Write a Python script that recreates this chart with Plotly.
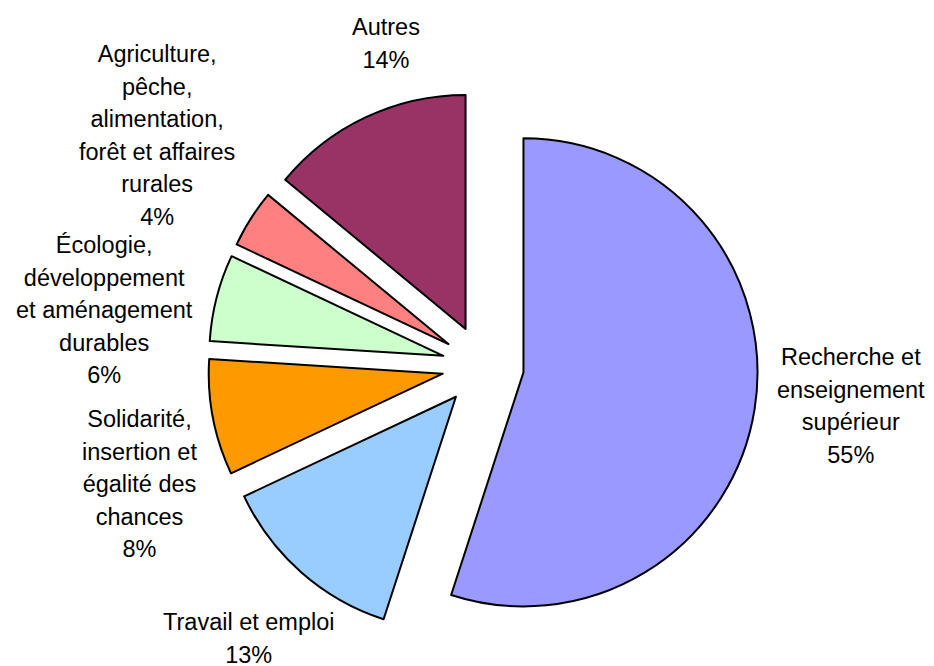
import math
import plotly.graph_objects as go

# ---- data ----
labels = ["Recherche et<br>enseignement<br>supérieur",
          "Travail et emploi",
          "Solidarité,<br>insertion et<br>égalité des<br>chances",
          "Écologie,<br>développement<br>et aménagement<br>durables",
          "Agriculture,<br>pêche,<br>alimentation,<br>forêt et affaires<br>rurales",
          "Autres"]
values = [55, 13, 8, 6, 4, 14]
colors = ["#9999FF", "#99CCFF", "#FF9900", "#CCFFCC", "#FF8080", "#993366"]

# ---- layout / style ----
W, H = 934, 666
PULL = 0.175
dom_x = [0.18737, 0.82977]
dom_y = [0.04955, 0.87537]
# label placement: radial distance from pie centre (px) and small nudges (px)
label_dist = [371, 362, 360, 380, 399, 333]
label_xshift = [2, 5, 10, -10, 11, 45]
label_yshift = [18, -1, -51, -39, 17, 21]
LINE_FONT = 25      # sets the line spacing
GLYPH_SIZE = 23.5   # actual glyph size
FONT = dict(family="Liberation Sans, Arial, sans-serif", size=LINE_FONT, color="black")

fig = go.Figure(go.Pie(
    labels=labels,
    values=values,
    sort=False,
    direction="clockwise",
    rotation=0,
    pull=[PULL] * len(values),
    marker=dict(colors=colors, line=dict(color="black", width=2)),
    textinfo="none",
    domain=dict(x=dom_x, y=dom_y),
    showlegend=False,
    hoverinfo="label+percent",
))

# pie geometry (same rules plotly uses)
cx = W * (dom_x[0] + dom_x[1]) / 2
cy = H * (dom_y[0] + dom_y[1]) / 2  # measured from bottom
total = sum(values)
cum = 0
for i, v in enumerate(values):
    mid = (cum + v / 2) / total * 2 * math.pi
    cum += v
    d = label_dist[i]
    x = cx + d * math.sin(mid)
    y = cy + d * math.cos(mid)
    pct = round(v / total * 100)
    txt = f"<span style='font-size:{GLYPH_SIZE}px'>{labels[i]}<br>{pct}%</span>"
    fig.add_annotation(
        x=x / W, y=y / H, xref="paper", yref="paper",
        text=txt,
        showarrow=False, align="center",
        xanchor="center", yanchor="middle",
        xshift=label_xshift[i], yshift=label_yshift[i],
        font=FONT,
    )

fig.update_layout(
    width=W, height=H,
    margin=dict(l=0, r=0, t=0, b=0),
    paper_bgcolor="white",
    plot_bgcolor="white",
)

fig.write_html("out.html")
